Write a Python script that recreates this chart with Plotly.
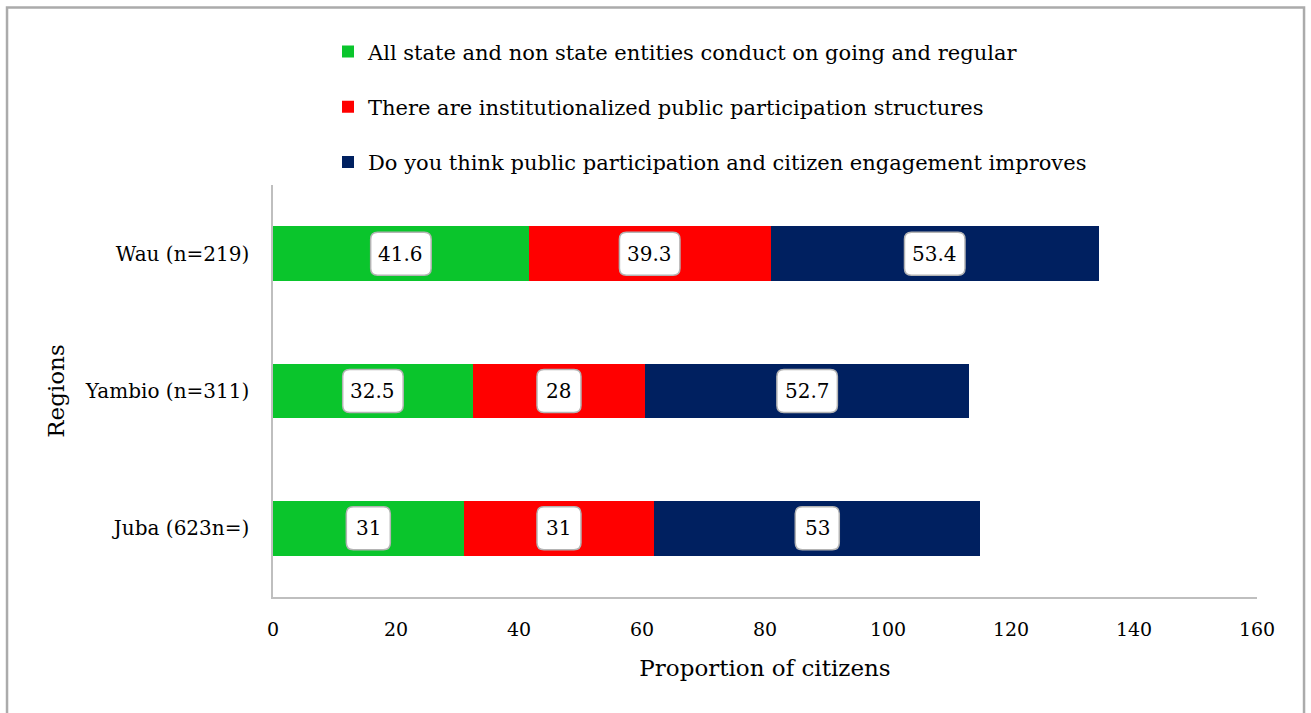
import plotly.graph_objects as go

# Survey results by region (stacked horizontal bars)
regions = ["Juba (623n=)", "Yambio (n=311)", "Wau (n=219)"]
series_names = [
    "All state and non state entities conduct on going and regular",
    "There are institutionalized public participation structures",
    "Do you think public participation and citizen engagement improves",
]
ongoing_regular = [31, 32.5, 41.6]
institutionalized = [31, 28, 39.3]
improves = [53, 52.7, 53.4]
series_values = [ongoing_regular, institutionalized, improves]
series_colors = ["#0AC52C", "#FF0000", "#002060"]
x_ticks = [0, 20, 40, 60, 80, 100, 120, 140, 160]

FONT = "DejaVu Serif"
FS = 21
positions = list(range(len(regions)))

fig = go.Figure()
for name, vals, col in zip(series_names, series_values, series_colors):
    fig.add_trace(go.Bar(
        y=positions, x=vals, name=name, orientation="h",
        marker=dict(color=col, line=dict(width=0)),
        legendgroup=name, width=0.4, hoverinfo="skip",
    ))


def label_box(text):
    # rounded white box sized to the label text (pixels)
    w = sum(5.5 if ch == "." else 11 for ch in text) + 22
    hw, hh, r = w / 2, 21.5, 7
    return (f"M{-hw + r},{-hh} L{hw - r},{-hh} Q{hw},{-hh} {hw},{-hh + r} "
            f"L{hw},{hh - r} Q{hw},{hh} {hw - r},{hh} L{-hw + r},{hh} "
            f"Q{-hw},{hh} {-hw},{hh - r} L{-hw},{-hh + r} Q{-hw},{-hh} {-hw + r},{-hh} Z")


shapes = []
annotations = []
for i, pos in enumerate(positions):
    base = 0
    for vals in series_values:
        v = vals[i]
        cx = base + v / 2
        txt = f"{v:g}"
        shapes.append(dict(
            type="path", xref="x", yref="y",
            xsizemode="pixel", ysizemode="pixel",
            xanchor=cx, yanchor=pos, path=label_box(txt),
            fillcolor="white", line=dict(color="#B4B4B4", width=1.5),
            layer="above",
        ))
        annotations.append(dict(
            x=cx, y=pos, xref="x", yref="y", text=txt, showarrow=False,
            font=dict(family=FONT, size=20, color="black"),
        ))
        base += v

# outer frame around the whole chart
shapes.append(dict(
    type="rect", xref="paper", yref="paper",
    x0=-0.2703, x1=1.0478, y0=-0.4, y1=1.4308,
    line=dict(color="#ABABAB", width=2.5), fillcolor="rgba(0,0,0,0)",
    layer="below",
))

fig.update_layout(
    width=1311, height=713,
    margin=dict(l=273, r=54, t=185, b=116),
    paper_bgcolor="white", plot_bgcolor="white",
    barmode="stack",
    font=dict(family=FONT, size=FS, color="black"),
    shapes=shapes, annotations=annotations,
    showlegend=True,
    legend=dict(
        x=0.0559, y=1.373, xanchor="left", yanchor="top",
        traceorder="grouped", tracegroupgap=25,
        font=dict(family=FONT, size=FS, color="black"),
        bgcolor="rgba(0,0,0,0)", itemwidth=30,
    ),
    xaxis=dict(
        range=[0, 160], tickvals=x_ticks, showgrid=False, zeroline=False,
        showline=True, linecolor="#BFBFBF", linewidth=1.5, ticks="",
        ticklabelstandoff=14, tickfont=dict(size=19),
        title=dict(text="Proportion of citizens", standoff=21,
                   font=dict(family=FONT, size=23)),
    ),
    yaxis=dict(
        range=[-0.5, 2.5], tickvals=positions, ticktext=regions,
        showgrid=False, zeroline=False, showline=True,
        linecolor="#BFBFBF", linewidth=1.5, ticks="",
        ticklabelstandoff=18, tickfont=dict(size=20),
        title=dict(text="Regions", standoff=14,
                   font=dict(family=FONT, size=23)),
    ),
)

fig.write_html("out.html")
